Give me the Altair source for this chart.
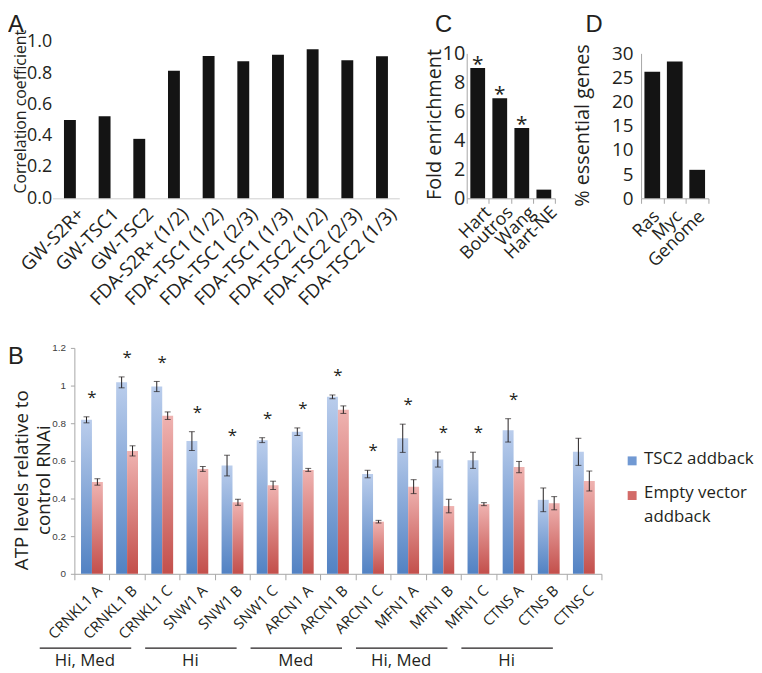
import altair as alt
import pandas as pd

# ---------------- data ----------------
a_cats = ["GW-S2R+", "GW-TSC1", "GW-TSC2", "FDA-S2R+ (1/2)", "FDA-TSC1 (1/2)",
          "FDA-TSC1 (2/3)", "FDA-TSC1 (1/3)", "FDA-TSC2 (1/2)", "FDA-TSC2 (2/3)", "FDA-TSC2 (1/3)"]
a_vals = [0.50, 0.525, 0.38, 0.815, 0.91, 0.875, 0.918, 0.952, 0.882, 0.907]
a_ticks = [0.0, 0.2, 0.4, 0.6, 0.8, 1.0]

c_cats = ["Hart", "Boutros", "Wang", "Hart-NE"]
c_vals = [9.0, 6.9, 4.85, 0.6]
c_star = [True, True, True, False]
c_ticks = [0, 2, 4, 6, 8, 10]

d_cats = ["Ras", "Myc", "Genome"]
d_vals = [26.2, 28.3, 5.9]
d_ticks = [0, 5, 10, 15, 20, 25, 30]

b_cats = ["CRNKL1 A", "CRNKL1 B", "CRNKL1 C", "SNW1 A", "SNW1 B", "SNW1 C",
          "ARCN1 A", "ARCN1 B", "ARCN1 C", "MFN1 A", "MFN1 B", "MFN1 C",
          "CTNS A", "CTNS B", "CTNS C"]
b_series = ["TSC2 addback", "Empty vector addback"]
tsc2 = [0.818, 1.017, 0.995, 0.705, 0.575, 0.71, 0.755, 0.94, 0.53, 0.72, 0.607, 0.603, 0.762, 0.393, 0.648]
tsc2_err = [0.016, 0.029, 0.027, 0.05, 0.055, 0.013, 0.02, 0.01, 0.02, 0.075, 0.04, 0.043, 0.062, 0.063, 0.072]
empty = [0.488, 0.653, 0.84, 0.557, 0.38, 0.47, 0.552, 0.872, 0.277, 0.463, 0.36, 0.37, 0.567, 0.375, 0.493]
empty_err = [0.017, 0.027, 0.02, 0.013, 0.016, 0.022, 0.008, 0.02, 0.007, 0.037, 0.036, 0.008, 0.03, 0.035, 0.053]
b_star = [True] * 13 + [False, False]
b_ticks = [0, 0.2, 0.4, 0.6, 0.8, 1.0, 1.2]

g_labels = ["Hi, Med", "Hi", "Med", "Hi, Med", "Hi"]
g_first = ["CRNKL1 A", "SNW1 A", "ARCN1 A", "MFN1 A", "CTNS A"]
g_mid = ["CRNKL1 B", "SNW1 B", "ARCN1 B", "MFN1 B", "CTNS B"]
g_last = ["CRNKL1 C", "SNW1 C", "ARCN1 C", "MFN1 C", "CTNS C"]

# ---------------- styles ----------------
FONT = "Open Sans"
LFONT = "Liberation Sans"
INK = "#231f20"
BAR = "#141414"
GRAY = "#a6a6a6"
H_TOP = 158
LET_Y = -10.3


def one(t):
    return pd.DataFrame({"t": [t]})


def letter(ch, x, y):
    return alt.Chart(one(ch)).mark_text(
        align="left", baseline="alphabetic", fontSize=24, font=LFONT, color=INK
    ).encode(text="t:N", x=alt.value(x), y=alt.value(y))


def spacer(w):
    return alt.Chart(one("")).mark_point(opacity=0).encode(
        x=alt.value(0), y=alt.value(0)).properties(width=w, height=H_TOP)


# ---------------- panel A ----------------
dfA = pd.DataFrame({"cat": a_cats, "val": a_vals})
a_bars = alt.Chart(dfA).mark_bar(color=BAR, width=12).encode(
    x=alt.X("cat:N", sort=a_cats, scale=alt.Scale(paddingInner=0, paddingOuter=0),
            axis=alt.Axis(title=None, labelAngle=-45, labelAlign="right", labelBaseline="top",
                          labelFontSize=19, labelFont=FONT, labelColor=INK, labelPadding=6,
                          labelOffset=5, ticks=False, domainColor="#cfcfcf", labelLimit=0)),
    y=alt.Y("val:Q", scale=alt.Scale(domain=[0, 1], nice=False),
            axis=alt.Axis(values=a_ticks, format=".1f", title="Correlation coefficient",
                          titleFont=FONT, titleFontSize=16, titleFontWeight="normal",
                          titleColor=INK, titleX=-40.5, titleY=70, titleBaseline="top",
                          labelFontSize=18, labelFont=FONT, labelColor=INK, labelPadding=1,
                          labelOverlap=False, ticks=False, domain=False, grid=False)),
)
chartA = alt.layer(a_bars, letter("A", -45, LET_Y)).properties(width=350, height=H_TOP)

# ---------------- panel C ----------------
dfC = pd.DataFrame({"cat": c_cats, "val": c_vals, "star": c_star})
c_x = alt.X("cat:N", sort=c_cats, scale=alt.Scale(paddingInner=0, paddingOuter=0),
            axis=alt.Axis(title=None, labelAngle=-45, labelAlign="right", labelBaseline="top",
                          labelFontSize=18, labelFont=FONT, labelColor=INK, labelPadding=0,
                          labelOffset=4, tickBand="extent", tickSize=5, tickColor=GRAY,
                          domainColor=GRAY, labelLimit=0))
c_y = alt.Y("val:Q", scale=alt.Scale(domain=[0, 10], nice=False, range=[H_TOP, 11.7]),
            axis=alt.Axis(values=c_ticks, title="Fold enrichment", titleFont=FONT,
                          titleFontSize=20, titleFontWeight="normal", titleColor=INK,
                          titleX=-42, titleY=83, titleBaseline="top",
                          labelFontSize=20, labelFont=FONT, labelColor=INK, labelPadding=2,
                          labelOverlap=False, ticks=False, domainColor=GRAY, grid=False))
c_bars = alt.Chart(dfC).mark_bar(color=BAR, width=alt.RelativeBandSize(0.67)).encode(x=c_x, y=c_y)
c_stars = alt.Chart(dfC).transform_filter(alt.datum.star).mark_text(
    text="*", fontSize=21, font=FONT, color=INK, baseline="alphabetic", dy=3
).encode(x=c_x, y=c_y)
chartC = alt.layer(c_bars, c_stars, letter("C", -32, LET_Y)).properties(width=89, height=H_TOP)

# ---------------- panel D ----------------
dfD = pd.DataFrame({"cat": d_cats, "val": d_vals})
d_bars = alt.Chart(dfD).mark_bar(color=BAR, width=alt.RelativeBandSize(0.7)).encode(
    x=alt.X("cat:N", sort=d_cats, scale=alt.Scale(paddingInner=0, paddingOuter=0),
            axis=alt.Axis(title=None, labelAngle=-45, labelAlign="right", labelBaseline="top",
                          labelFontSize=18, labelFont=FONT, labelColor=INK, labelPadding=4,
                          labelOffset=-2, tickBand="extent", tickSize=5, tickColor=GRAY,
                          domainColor=GRAY, labelLimit=0)),
    y=alt.Y("val:Q", scale=alt.Scale(domain=[0, 30], nice=False, range=[H_TOP, 11.7]),
            axis=alt.Axis(values=d_ticks, title="% essential genes", titleFont=FONT,
                          titleFontSize=20, titleFontWeight="normal", titleColor=INK,
                          titleX=-69, titleY=84, titleBaseline="top",
                          labelFontSize=19, labelFont=FONT, labelColor=INK, labelPadding=8,
                          labelOverlap=False, ticks=False, domainColor=GRAY, grid=False)),
)
chartD = alt.layer(d_bars, letter("D", -56, LET_Y)).properties(width=68, height=H_TOP)

# ---------------- panel B ----------------
rows = []
for i, c in enumerate(b_cats):
    rows.append(dict(cat=c, series=b_series[0], val=tsc2[i],
                     lo=tsc2[i] - tsc2_err[i], hi=tsc2[i] + tsc2_err[i]))
    rows.append(dict(cat=c, series=b_series[1], val=empty[i],
                     lo=empty[i] - empty_err[i], hi=empty[i] + empty_err[i]))
dfB = pd.DataFrame(rows)
dfStar = pd.DataFrame({
    "cat": b_cats,
    "top": [max(tsc2[i] + tsc2_err[i], empty[i] + empty_err[i]) for i in range(len(b_cats))],
    "star": b_star,
})
dfG = pd.DataFrame({"cat": g_first, "last": g_last, "label": g_labels})
dfGL = pd.DataFrame({"cat": g_mid, "label": g_labels})

B_W, B_H = 554, 228
bx = alt.X("cat:N", scale=alt.Scale(domain=b_cats, range=[22, B_W], paddingInner=0, paddingOuter=0),
           axis=alt.Axis(title=None, labelAngle=-45, labelAlign="right", labelBaseline="top",
                         labelFontSize=15, labelFont=FONT, labelColor=INK, labelPadding=3,
                         labelOffset=2, tickBand="extent", tickSize=6, tickColor=GRAY,
                         domainColor=GRAY, labelLimit=0))
bxo = alt.XOffset("series:N", scale=alt.Scale(domain=b_series, paddingInner=0, paddingOuter=0.609))
b_axis = alt.Axis(values=b_ticks, format="~g",
                  title=["ATP levels relative to", "control RNAi"],
                  titleFont=FONT, titleFontSize=19, titleFontWeight="normal", titleColor=INK,
                  titleX=-62.5, titleY=133, titleBaseline="top", titleLineHeight=22.5,
                  labelFontSize=10, labelFont=LFONT, labelColor="#404040", labelPadding=5,
                  labelOverlap=False, tickSize=4, tickColor=GRAY, domainColor=GRAY,
                  offset=-22, grid=False)
b_scale = alt.Scale(domain=[0, 1.2], nice=False)


def by(field):
    return alt.Y(field, scale=b_scale, axis=b_axis)


grad_blue = alt.LinearGradient(gradient="linear", x1=0, x2=0, y1=0, y2=1, stops=[
    alt.GradientStop(color="#bacdec", offset=0), alt.GradientStop(color="#5282c3", offset=1)])
grad_red = alt.LinearGradient(gradient="linear", x1=0, x2=0, y1=0, y2=1, stops=[
    alt.GradientStop(color="#efb3b1", offset=0), alt.GradientStop(color="#c34f4b", offset=1)])

blue = alt.Chart(dfB).transform_filter(alt.datum.series == b_series[0]).mark_bar(
    color=grad_blue).encode(x=bx, xOffset=bxo, y=by("val:Q"))
red = alt.Chart(dfB).transform_filter(alt.datum.series == b_series[1]).mark_bar(
    color=grad_red).encode(x=bx, xOffset=bxo, y=by("val:Q"))
err = alt.Chart(dfB).mark_rule(color=INK, strokeWidth=1).encode(
    x=bx, xOffset=bxo, y=by("lo:Q"), y2="hi:Q")
caps = alt.Chart(dfB).transform_fold(["lo", "hi"], as_=["end", "yy"]).mark_tick(
    orient="horizontal", size=6, thickness=1, color=INK).encode(
    x=bx, xOffset=bxo, y=by("yy:Q"))
stars = alt.Chart(dfStar).transform_filter(alt.datum.star).mark_text(
    text="*", fontSize=17, font=FONT, color=INK, baseline="alphabetic", dy=-14
).encode(x=bx, y=by("top:Q"))
glines = alt.Chart(dfG).mark_rule(color=INK, strokeWidth=1.2, xOffset=-52.7, x2Offset=-31.3).encode(
    x=bx, x2="last:N", y=alt.value(303))
gtext = alt.Chart(dfGL).mark_text(fontSize=17, font=FONT, color=INK, baseline="middle",
                                  xOffset=-42.5).encode(
    x=bx, y=alt.value(316), text="label:N")

leg = [
    alt.Chart(one("")).mark_square(size=81, color="#7199d3", opacity=1).encode(
        x=alt.value(585), y=alt.value(114)),
    alt.Chart(one("")).mark_square(size=81, color="#d36b68", opacity=1).encode(
        x=alt.value(585), y=alt.value(149)),
    alt.Chart(one("TSC2 addback")).mark_text(align="left", baseline="middle", fontSize=17,
                                             font=FONT, color=INK).encode(
        text="t:N", x=alt.value(597), y=alt.value(112)),
    alt.Chart(one("Empty vector")).mark_text(align="left", baseline="middle", fontSize=17,
                                             font=FONT, color=INK).encode(
        text="t:N", x=alt.value(597), y=alt.value(146)),
    alt.Chart(one("addback")).mark_text(align="left", baseline="middle", fontSize=17,
                                        font=FONT, color=INK).encode(
        text="t:N", x=alt.value(597), y=alt.value(171)),
]

chartB = alt.layer(blue, red, err, caps, stars, glines, gtext, *leg,
                   letter("B", -45, 16)).properties(width=B_W, height=B_H)

# ---------------- layout ----------------
row1 = alt.hconcat(chartA, spacer(68), chartC, spacer(87), chartD, spacing=0, bounds="flush")
chart = alt.vconcat(row1, chartB, spacing=34,
                    padding={"left": 0, "top": 1, "right": 0, "bottom": 0}).configure_view(
    stroke=None).configure_axis(labelFont=FONT, titleFont=FONT)

chart.save("out.html", embed_options={"renderer": "svg", "actions": False})
